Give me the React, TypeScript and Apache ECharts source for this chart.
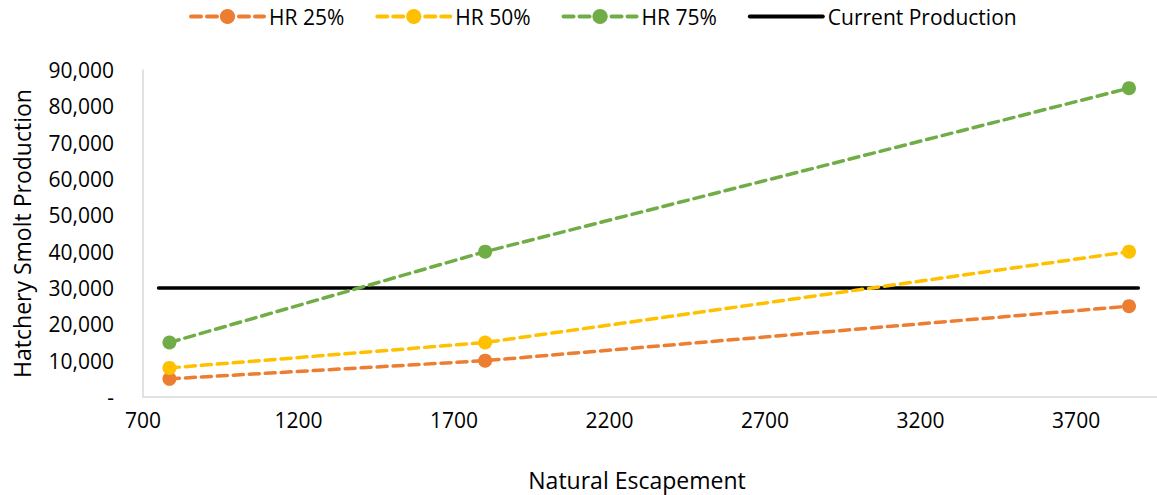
import React, { useEffect, useRef } from "react";
import * as echarts from "echarts";

const escapement = [785, 1800, 3870];
const hr25 = [5000, 10000, 25000];
const hr50 = [8000, 15000, 40000];
const hr75 = [15000, 40000, 85000];
const currentX = [750, 3900];
const currentY = [30000, 30000];
const seriesNames = ["HR 25%", "HR 50%", "HR 75%", "Current Production"];
const colors = ["#ED7D31", "#FFC000", "#70AD47", "#000000"];

const FONT = "'Open Sans', 'Noto Sans', sans-serif";

export default function App() {
  const ref = useRef<HTMLDivElement>(null);
  useEffect(() => {
    if (!ref.current) return;
    const chart = echarts.init(ref.current, null, { renderer: "svg" });
    const dashed = (name: string, ys: number[], color: string) => ({
      name,
      type: "line",
      data: escapement.map((x, i) => [x, ys[i]]),
      symbol: "circle",
      symbolSize: 14,
      itemStyle: { color },
      lineStyle: { color, width: 3.5, type: [10, 6], cap: "round" },
      z: 3,
    });
    chart.setOption({
      animation: false,
      textStyle: { fontFamily: FONT },
      legend: {
        top: 1,
        left: 184,
        itemWidth: 73,
        itemHeight: 19,
        itemGap: 31,
        lineStyle: { width: 4 },
        textStyle: { fontSize: 21, color: "#000", fontFamily: FONT },
        data: [
          seriesNames[0],
          seriesNames[1],
          seriesNames[2],
          { name: seriesNames[3], itemStyle: { opacity: 0 } },
        ],
      },
      grid: { left: 143, right: 0, top: 70, bottom: 98, outerBoundsMode: "none", containLabel: false },
      xAxis: {
        type: "value",
        min: 700,
        max: 3960,
        interval: 500,
        name: "Natural Escapement",
        nameLocation: "middle",
        nameGap: 71,
        nameTextStyle: { fontSize: 23, color: "#000", fontFamily: FONT, padding: [0, 26, 0, 0] },
        axisLine: { show: true, lineStyle: { color: "#D9D9D9", width: 1.5 } },
        axisTick: { show: false },
        splitLine: { show: false },
        axisLabel: {
          fontSize: 21,
          color: "#000",
          margin: 12,
          showMaxLabel: false,
          fontFamily: FONT,
          formatter: (v: number) => String(v),
        },
      },
      yAxis: {
        type: "value",
        min: 0,
        max: 90000,
        interval: 10000,
        name: "Hatchery Smolt Production",
        nameLocation: "middle",
        nameGap: 110,
        nameTextStyle: { fontSize: 23, color: "#000", fontFamily: FONT },
        axisLine: { show: true, lineStyle: { color: "#D9D9D9", width: 1.5 } },
        axisTick: { show: false },
        splitLine: { show: false },
        axisLabel: {
          fontSize: 21,
          color: "#000",
          margin: 29,
          fontFamily: FONT,
          formatter: (v: number) => (v === 0 ? "-" : v.toLocaleString("en-US")),
        },
      },
      series: [
        dashed(seriesNames[0], hr25, colors[0]),
        dashed(seriesNames[1], hr50, colors[1]),
        dashed(seriesNames[2], hr75, colors[2]),
        {
          name: seriesNames[3],
          type: "line",
          data: currentX.map((x, i) => [x, currentY[i]]),
          symbol: "none",
          itemStyle: { color: colors[3] },
          lineStyle: { color: colors[3], width: 3.5, cap: "round" },
          z: 2,
        },
      ],
    });
    return () => chart.dispose();
  }, []);
  return (
    <div
      ref={ref}
      style={{ position: "fixed", left: 0, top: 0, width: 1157, height: 495, background: "#fff" }}
    />
  );
}
